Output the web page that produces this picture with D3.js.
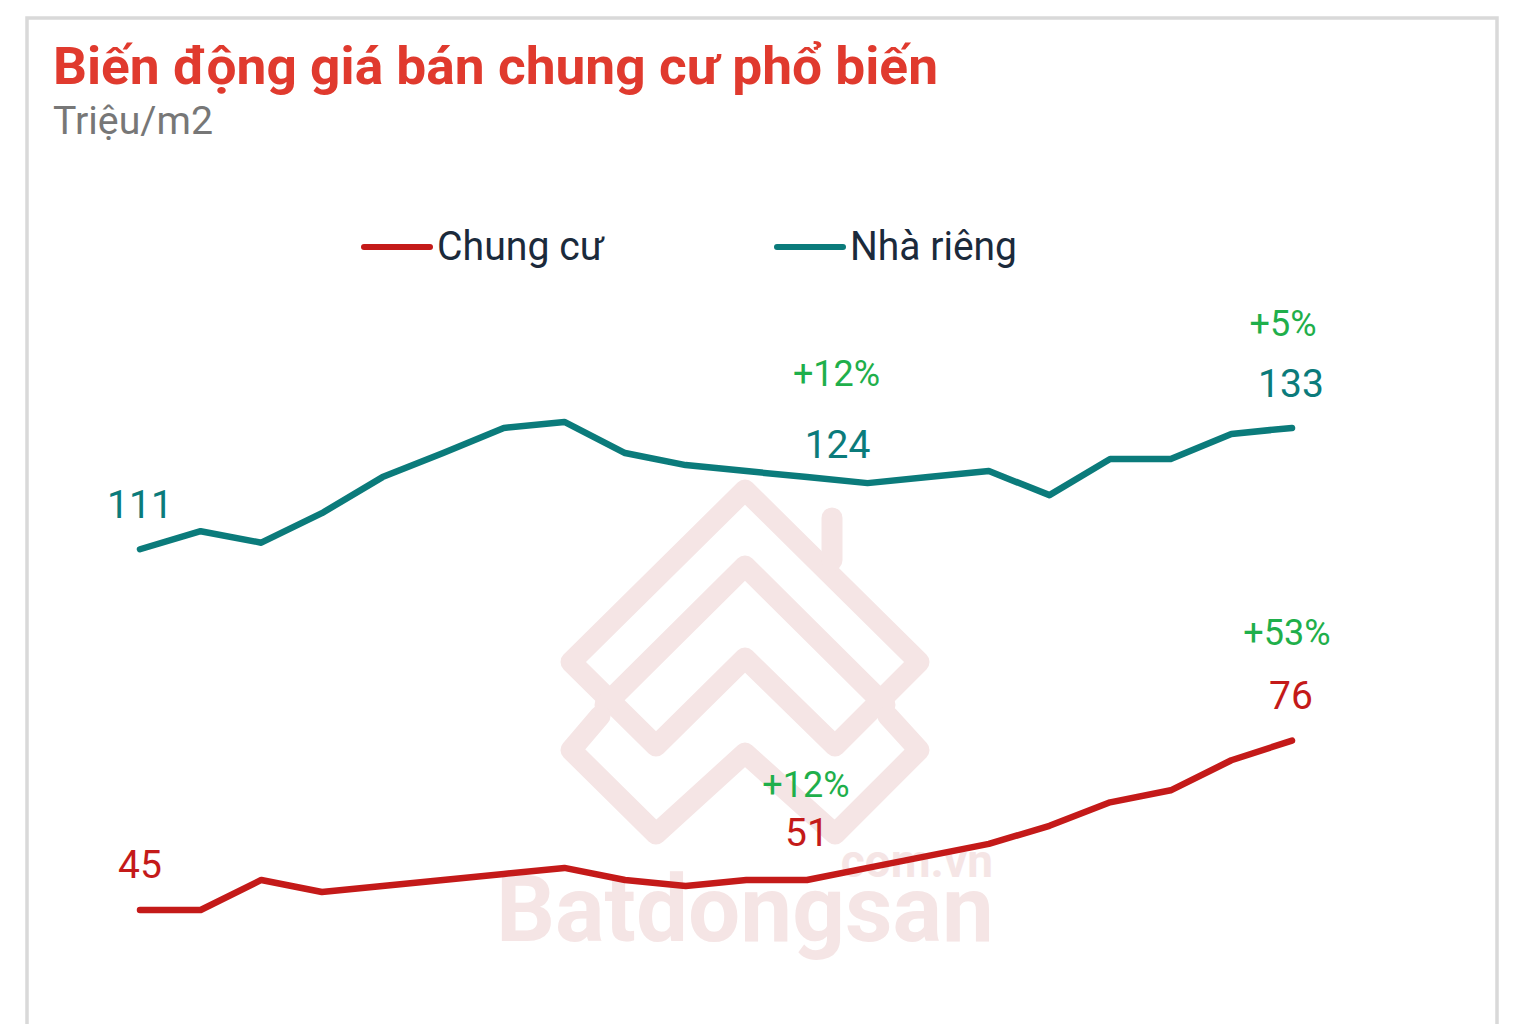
<!DOCTYPE html>
<html><head><meta charset="utf-8">
<script src="https://cdn.jsdelivr.net/npm/d3@7"></script>
<style>body{margin:0;background:#fff}svg{display:block}text{font-family:Roboto,"Noto Sans",sans-serif}</style>
</head><body>
<svg id="c" width="1528" height="1024"></svg>
<script>
// ---- data ----
const periods = d3.range(20); // 20 periods (labels not shown in chart)
const chungCu = [45, 45, 50.5, 48.3, 49.4, 50.5, 51.6, 52.7, 50.5, 49.4, 50.5, 50.5, 52.7, 54.9, 57.1, 60.4, 64.7, 66.9, 72.4, 76];
const nhaRieng = [111, 114.3, 112.2, 117.6, 124.2, 128.6, 133.2, 134.3, 128.6, 126.4, 125.3, 124.2, 123.1, 124.2, 125.3, 120.9, 127.5, 127.5, 132.1, 133.2];
const seriesNames = ["Chung cư", "Nhà riêng"];
const valueLabels = [ // series, index, text
  {s: 1, i: 0, text: "111"}, {s: 1, i: 12, text: "124"}, {s: 1, i: 19, text: "133"},
  {s: 0, i: 0, text: "45"}, {s: 0, i: 11, text: "51"}, {s: 0, i: 19, text: "76"}
];
const pctLabels = [
  {s: 1, i: 12, text: "+12%"}, {s: 1, i: 19, text: "+5%"},
  {s: 0, i: 11, text: "+12%"}, {s: 0, i: 19, text: "+53%"}
];
const title = "Biến động giá bán chung cư phổ biến";
const subtitle = "Triệu/m2";

// ---- styles / layout ----
const colors = ["#c41a19", "#0b7b7b"];
const green = "#1faf4b";
const svg = d3.select("#c");
const x = d3.scalePoint().domain(periods).range([140, 1292]);
const y = d3.scaleLinear().domain([45, 133]).range([910, 429]);

// card
svg.append("rect").attr("x", 27).attr("y", 18).attr("width", 1470).attr("height", 1040)
  .attr("fill", "#fff").attr("stroke", "#d9d9d9").attr("stroke-width", 3.5);

// watermark
const wm = svg.append("g").attr("fill", "none").attr("stroke", "#f5e5e5").attr("stroke-width", 21)
  .attr("stroke-linejoin", "round").attr("stroke-linecap", "round");
wm.append("path").attr("d", "M745,490 L919,662 L835,746 L745,658 L656,746 L571,662 Z");
wm.append("path").attr("d", "M605,705 L745,566 L885,705");
wm.append("path").attr("d", "M600,716 L571,750 L656,834 L745,753 L835,834 L919,750 L888,716");
wm.append("path").attr("d", "M832,518 L832,560");
svg.append("text").attr("x", 745).attr("y", 941).attr("text-anchor", "middle")
  .attr("font-size", 92).attr("font-weight", 700).attr("fill", "#f5e5e5").text("Batdongsan")
  .attr("textLength", 498).attr("lengthAdjust", "spacingAndGlyphs");
svg.append("text").attr("x", 993).attr("y", 877).attr("text-anchor", "end")
  .attr("font-size", 46).attr("font-weight", 700).attr("fill", "#f5e5e5").text("com.vn");

// title
svg.append("text").attr("x", 53).attr("y", 84).attr("font-size", 52).attr("font-weight", 700)
  .attr("fill", "#e03a2e").text(title).attr("textLength", 885).attr("lengthAdjust", "spacingAndGlyphs");
svg.append("text").attr("x", 53).attr("y", 134).attr("font-size", 38)
  .attr("fill", "#777").text(subtitle).attr("textLength", 160).attr("lengthAdjust", "spacingAndGlyphs");

// legend
const legX = [364, 777];
seriesNames.forEach((n, k) => {
  svg.append("line").attr("x1", legX[k]).attr("x2", legX[k] + 66).attr("y1", 247).attr("y2", 247)
    .attr("stroke", colors[k]).attr("stroke-width", 6).attr("stroke-linecap", "round");
  svg.append("text").attr("x", legX[k] + 73).attr("y", 260).attr("font-size", 40)
    .attr("fill", "#1b2a3b").text(n).attr("textLength", 167).attr("lengthAdjust", "spacingAndGlyphs");
});

// lines
const data = [chungCu, nhaRieng];
const line = d3.line().x((d, i) => x(i)).y(d => y(d));
data.forEach((arr, k) => {
  svg.append("path").datum(arr).attr("d", line).attr("fill", "none")
    .attr("stroke", colors[k]).attr("stroke-width", 6.5)
    .attr("stroke-linejoin", "round").attr("stroke-linecap", "round");
});

// value labels
const vOff = {"111": [0, -31], "124": [-30, -25], "133": [-1, -31], "45": [0, -32], "51": [0, -34], "76": [-1, -32]};
svg.selectAll("text.v").data(valueLabels).join("text").attr("class", "v")
  .attr("x", d => x(d.i) + vOff[d.text][0]).attr("y", d => y(data[d.s][d.i]) + vOff[d.text][1])
  .attr("text-anchor", "middle").attr("font-size", 39).attr("fill", d => colors[d.s]).text(d => d.text);

const pOff = [[-31, -97], [-9, -92], [-1, -83], [-5, -96]];
svg.selectAll("text.p").data(pctLabels).join("text").attr("class", "p")
  .attr("x", (d, j) => x(d.i) + pOff[j][0]).attr("y", (d, j) => y(data[d.s][d.i]) + pOff[j][1])
  .attr("text-anchor", "middle").attr("font-size", 36).attr("fill", green).text(d => d.text);
</script>
</body></html>
